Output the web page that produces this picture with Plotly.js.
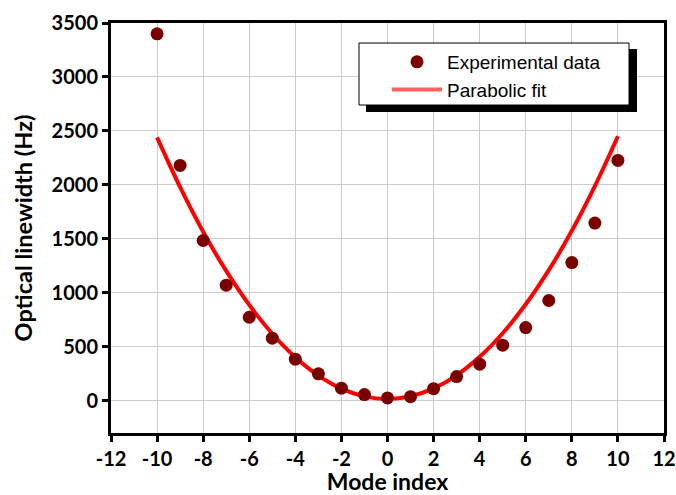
<!DOCTYPE html>
<html>
<head>
<meta charset="utf-8">
<script src="https://cdn.plot.ly/plotly-3.0.1.min.js"></script>
<style>html,body{margin:0;padding:0;background:#fff;}#chart{width:676px;height:495px;}</style>
</head>
<body>
<div id="chart"></div>
<script>
var modeIndex = [-10,-9,-8,-7,-6,-5,-4,-3,-2,-1,0,1,2,3,4,5,6,7,8,9,10];
var linewidthHz = [3400,2180,1484,1070,773,579,384,248,115,56,25,37,111,223,338,514,677,928,1280,1646,2226];
var fitX = [-10,-9,-8,-7,-6,-5,-4,-3,-2,-1,0,1,2,3,4,5,6,7,8,9,10];
var fitY = [2440,1979,1566,1202,887,620,402,232,111,39,15,40,113,235,406,625,893,1209,1574,1988,2450];
var xTicks = [-12,-10,-8,-6,-4,-2,0,2,4,6,8,10,12];
var yTicks = [0,500,1000,1500,2000,2500,3000,3500];

var boldFont = 'Lato, "Open Sans", sans-serif';
var W = 676, H = 495, ml = 111, mr = 12, mt = 23, mb = 62;
var pw = W - ml - mr, ph = H - mt - mb;
function px(x){ return (x - ml) / pw; }
function py(y){ return (H - mb - y) / ph; }

var traces = [
  {x: fitX, y: fitY, type: 'scatter', mode: 'lines', line: {color: '#ff0000', width: 4, shape: 'spline'}, showlegend: false, hoverinfo: 'skip'},
  {x: modeIndex, y: linewidthHz, type: 'scatter', mode: 'markers', name: 'Experimental data',
   marker: {color: '#7a0000', size: 13}},
  {x: [null], y: [null], type: 'scatter', mode: 'lines', name: 'Parabolic fit', line: {color: '#ff6060', width: 4}}
];

var layout = {
  width: W, height: H,
  margin: {l: ml, r: mr, t: mt, b: mb},
  paper_bgcolor: '#fff', plot_bgcolor: '#fff',
  xaxis: {
    range: [-12, 12], tickvals: xTicks, ticktext: xTicks.map(String),
    showgrid: true, gridcolor: '#cccccc', gridwidth: 1, zeroline: false,
    showline: true, linecolor: '#000', linewidth: 3, mirror: true,
    ticks: 'outside', ticklen: 6, tickwidth: 3, tickcolor: '#000',
    tickfont: {family: boldFont, size: 20, color: '#000', weight: 700},
    title: {text: 'Mode index', font: {family: boldFont, size: 23, color: '#000', weight: 700}, standoff: 15},
    automargin: false
  },
  yaxis: {
    range: [-300, 3500], tickvals: yTicks, ticktext: yTicks.map(String),
    showgrid: true, gridcolor: '#cccccc', gridwidth: 1, zeroline: false,
    showline: true, linecolor: '#000', linewidth: 3, mirror: true,
    ticks: 'outside', ticklen: 6, tickwidth: 3, tickcolor: '#000',
    tickfont: {family: boldFont, size: 20, color: '#000', weight: 700},
    title: {text: 'Optical linewidth (Hz)', font: {family: boldFont, size: 23.5, color: '#000', weight: 700}, standoff: 13},
    automargin: false
  },
  legend: {
    x: px(387), y: py(43), xanchor: 'left', yanchor: 'top',
    bgcolor: 'rgba(0,0,0,0)', borderwidth: 0, itemwidth: 50,
    font: {family: '"Liberation Sans", Arial, sans-serif', size: 19, color: '#000'},
    tracegroupgap: 0
  },
  shapes: [
    {type: 'rect', xref: 'paper', yref: 'paper', x0: px(366), x1: px(637), y0: py(49), y1: py(112),
     fillcolor: '#000', line: {width: 0}, layer: 'above'},
    {type: 'rect', xref: 'paper', yref: 'paper', x0: px(359), x1: px(629), y0: py(43), y1: py(105),
     fillcolor: '#fff', line: {color: '#000', width: 1}, layer: 'above'}
  ],
  showlegend: true
};

Plotly.newPlot('chart', traces, layout, {displayModeBar: false, staticPlot: true});
</script>
</body>
</html>
